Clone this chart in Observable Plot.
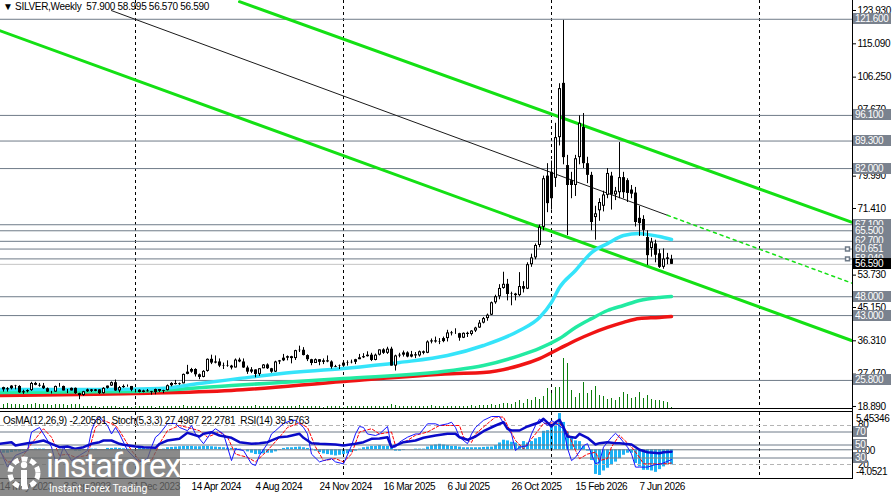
<!DOCTYPE html>
<html><head><meta charset="utf-8">
<script src="https://cdn.jsdelivr.net/npm/d3@7"></script>
<script src="https://cdn.jsdelivr.net/npm/@observablehq/plot@0.6"></script>
<style>
body{margin:0;background:#fff;}
#wrap{position:relative;width:892px;height:496px;overflow:hidden;font-family:"Liberation Sans",Arial,sans-serif;}
.box{position:absolute;left:853px;width:38px;height:11px;line-height:11px;font-size:10px;color:#fff;background:#7a828e;padding-left:2px;box-sizing:border-box;letter-spacing:-0.4px;white-space:nowrap;}
.lbl{position:absolute;left:856px;height:11px;line-height:11px;font-size:10px;color:#000;letter-spacing:-0.4px;white-space:nowrap;}
.line{position:absolute;background:#000;}
.hdr{position:absolute;font-size:10px;color:#000;white-space:pre;letter-spacing:-0.3px;}
</style></head>
<body><div id="wrap"></div>
<script>
// ---------------- DATA ----------------
const firstWeek = "2023-05-14"; // weekly bars, one per week
const openP = [23.9,23.9,23.3,23.6,24.3,24.2,22.5,22.8,23.1,25.0,24.5,24.3,23.6,22.7,22.7,24.2,24.2,23.0,23.0,23.7,22.3,21.8,22.8,23.3,22.9,23.3,22.3,23.7,24.3,25.2,23.0,23.9,24.2,24.2,23.2,23.2,22.6,23.0,22.8,22.6,23.4,22.9,23.1,24.4,25.0,24.7,24.9,27.4,28.0,28.7,27.3,26.6,28.2,31.4,30.4,30.7,29.6,29.5,29.6,29.1,31.2,30.7,29.1,28.0,28.6,27.4,28.9,29.9,28.9,28.0,30.7,31.0,31.7,32.1,31.6,33.7,33.8,32.4,31.3,30.3,31.3,30.6,31.0,30.7,29.3,29.5,29.6,30.4,30.5,30.6,31.3,31.8,32.1,32.5,31.1,32.5,33.9,33.0,34.1,29.6,32.3,32.5,33.1,32.0,32.6,32.3,33.4,33.0,36.0,36.3,36.0,36.1,36.9,38.4,38.2,38.2,37.0,38.3,38.0,38.9,39.7,41.0,42.2,43.1,46.4,48.0,50.2,51.3,48.6,48.7,48.3,50.7,50.0,56.5,58.3,61.6,66.4,80.0,81.0,79.4,90.2,104.6,82.8,78.8,77.5,84.9,92.9,83.3,80.2,69.0,70.8,72.0,74.9,80.0,75.0,75.6,79.6,78.8,76.3,75.5,68.8,68.5,63.7,60.8,62.0,59.4,55.8,58.3,57.9];
const highP = [24.3,24.0,23.9,24.4,24.5,24.4,23.2,23.3,25.3,25.3,25.0,25.0,23.8,22.9,24.3,25.0,24.3,23.4,23.8,23.8,22.4,22.9,23.5,23.4,23.4,23.3,23.9,24.3,25.4,25.9,24.2,24.6,24.6,24.2,23.4,23.3,23.2,23.4,22.9,23.5,23.4,23.2,24.6,25.2,25.8,25.1,27.5,29.8,29.0,28.9,27.5,28.4,31.5,32.5,32.3,31.5,30.4,31.0,29.8,31.5,31.7,31.5,29.6,29.2,28.6,28.9,30.0,30.2,29.0,30.9,31.1,32.7,32.3,32.2,33.8,34.9,34.5,32.6,31.4,31.5,31.3,31.5,32.3,31.0,29.8,29.9,30.8,31.0,31.2,31.4,32.7,32.9,33.4,33.0,32.8,33.9,34.2,34.6,34.6,32.5,33.0,33.6,33.4,33.5,33.2,33.6,33.6,36.3,36.8,37.3,36.9,37.3,39.1,38.8,39.5,38.3,38.4,38.6,39.0,39.9,41.7,42.5,43.4,46.6,48.4,51.2,54.5,52.6,49.2,48.9,54.4,52.0,57.0,59.3,62.0,67.0,80.0,83.3,84.0,94.0,104.5,121.3,85.5,81.0,85.5,96.0,96.6,85.0,81.0,72.0,74.0,76.0,82.0,81.0,77.0,88.9,81.0,79.3,77.5,77.0,72.0,69.5,65.5,63.5,63.0,60.5,60.7,59.5,58.995];
const lowP = [23.1,22.7,22.7,23.3,23.3,22.4,22.1,22.5,22.9,24.4,24.0,23.4,22.6,22.2,22.7,24.0,23.0,22.3,23.0,22.1,20.7,21.6,22.6,22.6,22.8,22.1,22.2,23.5,24.2,22.9,22.5,23.7,24.0,22.8,22.5,22.5,22.5,22.7,21.9,22.0,22.6,22.3,23.0,24.1,24.6,24.5,24.9,27.3,27.7,26.7,26.0,26.5,28.0,30.0,30.2,29.2,28.7,29.3,28.6,29.1,30.5,29.0,27.4,27.6,26.5,26.9,28.9,28.7,27.7,27.9,30.0,30.8,31.0,30.2,31.1,33.2,32.3,30.8,29.7,30.3,29.7,30.0,30.5,28.8,29.2,28.7,29.5,29.6,30.2,30.0,31.3,31.6,32.0,30.8,31.0,32.3,32.7,32.7,29.6,28.3,31.8,32.0,31.8,31.8,31.6,32.0,32.6,32.9,35.5,35.7,35.3,35.8,36.0,37.6,38.0,36.2,36.9,37.2,37.6,38.5,39.6,40.8,41.5,43.0,46.0,47.2,50.0,46.9,45.6,46.9,48.0,49.0,49.9,55.8,57.8,61.0,65.5,70.3,71.0,77.0,88.0,83.0,64.2,74.0,74.6,83.0,82.0,78.0,65.5,63.0,68.0,70.5,74.0,71.0,73.5,74.0,74.0,73.0,74.0,66.5,64.0,64.0,56.3,58.5,57.0,55.5,55.3,56.5,56.57];
const closeP = [23.9,23.3,23.6,24.3,24.2,22.5,22.8,23.1,25.0,24.5,24.3,23.6,22.7,22.7,24.2,24.2,23.0,23.0,23.7,22.3,21.8,22.8,23.3,22.9,23.3,22.3,23.7,24.3,25.2,23.0,23.9,24.2,24.2,23.2,23.2,22.6,23.0,22.8,22.6,23.4,22.9,23.1,24.4,25.0,24.7,24.9,27.4,28.0,28.7,27.3,26.6,28.2,31.4,30.4,30.7,29.6,29.5,29.6,29.1,31.2,30.7,29.1,28.0,28.6,27.4,28.9,29.9,28.9,28.0,30.7,31.0,31.7,32.1,31.6,33.7,33.8,32.4,31.3,30.3,31.3,30.6,31.0,30.7,29.3,29.5,29.6,30.4,30.5,30.6,31.3,31.8,32.1,32.5,31.1,32.5,33.9,33.0,34.1,29.6,32.3,32.5,33.1,32.0,32.6,32.3,33.4,33.0,36.0,36.3,36.0,36.1,36.9,38.4,38.2,38.2,37.0,38.3,38.0,38.9,39.7,41.0,42.2,43.1,46.4,48.0,50.2,51.3,48.6,48.7,48.3,50.7,50.0,56.5,58.3,61.6,66.4,79.3,72.7,74.0,90.2,103.2,84.9,77.5,77.5,84.6,94.0,83.3,80.2,67.7,70.0,73.0,75.0,80.7,75.0,76.0,79.6,75.6,75.4,75.2,67.7,67.4,65.6,58.9,62.5,59.0,55.8,58.0,57.9,56.59];
const volume = [4,4,5,4,4,4,3,4,4,5,4,4,4,3,4,4,4,3,4,4,4,
  2,2,2,2,1,2,2,2,2,1,2,2,1,2,2,2,2,2,1,2,2,2,2,2,2,3,2,2,2,2,2,2,2,2,1,2,2,2,2,
  2,2,2,2,3,2,2,2,2,2,2,2,2,2,2,3,2,2,2,2,2,1,2,2,2,2,1,2,2,2,2,2,2,2,2,2,2,2,4,3,2,2,2,2,2,2,2,2,3,2,2,2,2,
  2,2,2,2,2,3,2,3,3,3,4,3,4,
  5,5,4,6,8,5,9,8,11,9,
  12,20,15,21,21,50,45,
  18,11,15,26,15,18,22,13,12,9,10,8,11,16,14,10,11,16,10,13,9,8,8,7,6,1];
const osmaHist = [-0.4,-0.5,-0.5,-0.4,-0.3,-0.3,-0.2,-0.2,-0.1,
  0.1,0.1,0.1,0,-0.1,-0.1,-0.1,0,0,-0.1,-0.2,-0.2,-0.1,0,0.1,0.1,0,0,
  0.2,0.2,0.25,0.2,0.15,0.1,0.05,0,0.2,0.2,0.15,0.1,
  0.1,0.05,0.1,
  0.3,0.35,0.4,0.45,0.5,0.5,0.5,0.45,0.45,0.5,0.5,0.45,0.4,0.35,0.3,0.25,0.2,0.2,
  0.1,0,
  -0.3,-0.5,-0.7,-0.7,-0.6,-0.5,-0.5,-0.3,-0.1,
  0.2,0.3,0.3,0.35,0.4,0.3,0.2,0.1,
  -0.2,-0.4,-0.6,-0.7,-0.8,-0.9,-0.8,-0.7,-0.6,-0.4,-0.2,
  0.1,0.3,0.4,0.5,0.5,0.6,0.5,0.5,0.2,
  -0.2,-0.2,-0.1,0,0,0.1,0.1,0.1,
  0.4,0.6,0.7,0.8,0.7,0.6,0.5,0.5,0.4,0.3,0.3,0.3,0.3,0.3,0.35,0.4,
  0.4,0.6,1.0,1.4,1.3,1.1,1.0,0.5,1.2,1.0,1.2,1.6,1.8,2.7,2.8,3.4,4.0,5.3,
  4.0,2.6,1.8,1.3,1.2,0.5,-0.2,-1.56,-3.6,-3.76,-3.1,-2.7,-2.3,-1.8,-1.3,-0.8,-0.5,-0.5,-2.0,-2.5,-3.0,-3.0,-3.1,-3.3,-2.9,-2.5,-2.1,-2.20581];

// moving averages (read at selected weeks)
const maFastWeek = [0,25,40,50,60,70,86,100,112,121,130,135,138,140,144,148,152,156,160,162,165,168];
const maFast = [23.4,23.4,23.66,25.0,26.3,27.6,28.97,30.56,32.4,35.07,39.05,42.5,46.5,50.45,54.96,59.7,62.1,64.25,64.78,64.5,63.98,63.2];
const maMidWeek = [0,34,58,86,113,121,130,135,140,144,148,152,156,160,165,168];
const maMid = [22.6,22.87,24.46,26.3,28.44,29.76,32.4,34.3,36.9,39.85,42.2,44.35,45.68,47.0,47.8,48.07];
const maSlowWeek = [0,34,58,86,113,121,130,135,140,144,148,152,156,160,165,168];
const maSlow = [21.8,22.34,23.14,25.52,27.6,27.9,29.76,31.6,34.27,36.4,38.25,39.85,41.2,42.23,42.5,42.77];

// channel lines (week, price)
const upperWeek = [60,213], upperPrice = [126.26,67.8];
const lowerWeek = [0,213], lowerPrice = [118.6,36.4];
const midWeek = [28,167,213], midPrice = [123.9,69.6,51.65];

// horizontal levels
const levelPrices = [121.6,96.1,89.3,82.0,67.1,65.5,62.7,60.651,58.04,48.0,43.0,25.8];
const handleLevels = [60.651,58.04];
const bidPrice = 56.59;
const priceTicks = [123.93,115.09,106.25,97.67,88.83,79.99,71.41,62.57,53.73,45.15,36.31,27.47,18.89];
const dateTicks = ["2023-05-14","2023-09-03","2023-12-24","2024-04-14","2024-08-04","2024-11-24","2025-03-16","2025-07-06","2025-10-26","2026-02-15","2026-06-07"];
const separatorDates = ["2024-01-07","2025-01-05","2026-01-04","2027-01-03"];

// oscillators (week, value)
const stochWeek = [0,2,4,7,8,10,11,13,14,15,16,18,20,22,23,24,25,27,28,29,30,32,34,35,37,38,39,40,42,44,45,47,48,49,51,53,54,56,58,59,61,63,64,65,67,68,69,71,73,74,76,77,78,80,81,83,84,86,88,89,90,91,92,94,95,97,98,99,100,102,104,105,107,109,110,112,113,114,115,117,118,119,121,123,125,126,128,129,130,132,133,134,135,137,138,139,141,142,143,144,146,147,148,149,150,151,153,154,155,157,158,159,160,162,164,165,168];
const stochMain = [44,16,34,41.5,70,77,67,47,24,29,47,26,34,41.5,72,88,93,80,67,77,67,41.5,29,24,29,47,62,67,83,83,77,72,80,67,52,70,75,67,26,44,41.5,21,18.5,34,52,67,72,83,88,88,77,67,36,24,26,29,24,21,49,67,78.5,77,67,64.6,67,78.5,46.7,46.7,54.4,62,67,67,82.6,82.6,80,82.6,85,77,62,52,67,77,88,93.8,93.8,83.6,67,41.5,46.7,49,67,80,90,80,87.7,83.6,75,45,26,31,49,52,36,21,23.6,46.7,62,68,62,46.7,36.4,16,16,16,20,20,27.4987];
const sigWeek = [0,2,5,8,11,13,15,17,19,22,24,26,29,30,33,35,38,40,42,45,47,50,52,55,57,59,62,64,67,70,72,75,77,79,81,84,86,88,90,93,95,98,99,102,104,107,110,112,113,115,116,118,119,122,124,126,127,129,131,132,134,136,138,140,142,144,145,147,149,150,152,153,155,156,158,160,161,164,166,168];
const stochSignal = [41.5,23.6,26,52,75,62,34,36,31,34,77,88,80,72,41.5,26,26,52,72,80,77,72,62,70,62,36,31,24,41.5,62,77,84,77,47,26,29,24,36,70,75,67,70,49,57,65,70,80,80,80,80,62,54,67,83,93,93,80,57,44,52,67,83,84,83,70,41.5,29,36,39,26,29,47,65,59,47,31,21,21,21,22.2781];
const rsiWeek = [0,3,4,7,9,11,13,15,17,19,21,23,25,26,28,30,31,34,36,39,40,42,45,47,50,51,53,55,58,60,63,65,67,70,72,75,76,78,80,84,86,89,91,93,95,97,98,100,101,104,106,109,112,114,115,117,119,121,124,126,127,128,130,132,135,136,138,139,140,141,142,144,145,147,149,150,152,154,155,158,160,162,165,166,168];
const rsiVal = [51.8,54.3,49.2,52.8,54.3,56.9,51.8,46.6,47.7,44.1,46.6,51.8,54.3,56.9,56.9,51.8,50.3,47.7,46.6,45.6,51.8,56.9,59.5,68.7,63.1,67.2,69.7,64.6,61.1,54.3,51.8,52.8,54.3,62,63.1,67.2,61.1,52.8,51.8,50.8,49.2,51.8,54.3,59.5,60,62,46.6,51.8,54.3,56.9,61.1,64.6,67.2,67.2,62,58,63.1,71.2,80,85,74.9,72.3,72.3,78.5,85,90.3,78.5,85,88.8,77.4,63.1,61.1,67.2,61.1,50.8,52.8,54.3,52.8,52.8,50.8,42.6,38.9,37.4,38.9,39.5763];
const osmaRange = [-4.0521, 5.45346];

// ---------------- BUILD ----------------
const WEEK = 7 * 864e5;
const t0 = +new Date(firstWeek);
const wk = i => new Date(t0 + i * WEEK);
const xDomain = [wk(0.25), wk(213.25)];
const pts = (ws, vs) => ws.map((w, j) => ({date: wk(w), v: vs[j]}));

const candles = closeP.map((c, i) => ({date: wk(i), o: openP[i], h: highP[i], l: lowP[i], c, vol: volume[i], osma: osmaHist[i]}));
const seps = separatorDates.map(d => new Date(d));
const GREEN = "#14e014";
const FONT = "'Liberation Sans', Arial, sans-serif";
const wrap = document.getElementById("wrap");

const mainFig = Plot.plot({
  width: 892, height: 409, marginTop: 0, marginBottom: 0, marginLeft: 0, marginRight: 40,
  style: {position: "absolute", left: "0px", top: "0px", background: "white", fontFamily: FONT, fontSize: "10px", letterSpacing: "-0.4px", overflow: "visible"},
  x: {type: "utc", domain: xDomain, axis: null},
  y: {domain: [18.09, 126.58], axis: null},
  marks: [
    Plot.ruleX(seps, {stroke: "#000", strokeDasharray: "3,3"}),
    Plot.ruleY(levelPrices, {stroke: "#6f7b88"}),
    Plot.ruleY([bidPrice], {stroke: "#c4c4c4"}),
    Plot.line(pts(upperWeek, upperPrice), {x: "date", y: "v", stroke: GREEN, strokeWidth: 3}),
    Plot.line(pts(lowerWeek, lowerPrice), {x: "date", y: "v", stroke: GREEN, strokeWidth: 3}),
    Plot.line(pts(midWeek.slice(0, 2), midPrice.slice(0, 2)), {x: "date", y: "v", stroke: "#1a1a1a", strokeWidth: 1}),
    Plot.line(pts(midWeek.slice(1), midPrice.slice(1)), {x: "date", y: "v", stroke: GREEN, strokeWidth: 1.5, strokeDasharray: "3,4"}),
    Plot.line(pts(maSlowWeek, maSlow), {x: "date", y: "v", stroke: "#f01414", strokeWidth: 3.5, curve: "monotone-x"}),
    Plot.line(pts(maMidWeek, maMid), {x: "date", y: "v", stroke: "#22eaa2", strokeWidth: 3.5, curve: "monotone-x"}),
    Plot.line(pts(maFastWeek, maFast), {x: "date", y: "v", stroke: "#35e4fa", strokeWidth: 3.5, curve: "monotone-x"}),
    Plot.ruleX(candles, {x: "date", y1: "l", y2: "h", stroke: "#000"}),
    Plot.ruleX(candles, {x: "date", y1: "o", y2: "c", stroke: "#000", strokeWidth: 3}),
    Plot.ruleX(candles.filter(d => d.c - d.o > 0.8), {x: "date", y1: "c", y2: "o", stroke: "#fff", strokeWidth: 1, insetTop: 1, insetBottom: 1}),
    Plot.dot(handleLevels, {x: () => wk(212), y: d => d, symbol: "square", r: 2.2, fill: "#fff", stroke: "#6f7b88"}),
    Plot.axisY({anchor: "right", ticks: priceTicks, tickSize: 3, tickPadding: 2, tickFormat: d => d.toFixed(3)})
  ]
});
wrap.appendChild(mainFig);

const volFig = Plot.plot({
  width: 892, height: 60, marginTop: 0, marginBottom: 0, marginLeft: 0, marginRight: 40,
  style: {position: "absolute", left: "0px", top: "348px", background: "transparent"},
  x: {type: "utc", domain: xDomain, axis: null},
  y: {domain: [0, 60], axis: null},
  marks: [Plot.ruleX(candles, {x: "date", y1: 0, y2: "vol", stroke: "#0b7d0b"})]
});
wrap.appendChild(volFig);

const osmaFig = Plot.plot({
  width: 892, height: 85, marginTop: 1, marginBottom: 19, marginLeft: 0, marginRight: 40,
  style: {position: "absolute", left: "0px", top: "411px", background: "white"},
  x: {type: "utc", domain: xDomain, axis: null},
  y: {domain: osmaRange, axis: null},
  marks: [
    Plot.ruleX(candles, {x: "date", y1: 0, y2: "osma", stroke: "#1cb2f4", strokeWidth: 3}),
    Plot.ruleY([0], {stroke: "#6f7b88"})
  ]
});
wrap.appendChild(osmaFig);

const oscFig = Plot.plot({
  width: 892, height: 85, marginTop: 1, marginBottom: 19, marginLeft: 0, marginRight: 40,
  style: {position: "absolute", left: "0px", top: "411px", background: "transparent", fontFamily: FONT, fontSize: "10px", letterSpacing: "-0.4px", overflow: "visible"},
  x: {type: "utc", domain: xDomain},
  y: {domain: [0, 100], axis: null},
  marks: [
    Plot.ruleX(seps, {stroke: "#000", strokeDasharray: "3,3"}),
    Plot.ruleY([80, 20], {stroke: "#b4b4b4", strokeDasharray: "4,3"}),
    Plot.ruleY([70, 50, 30], {stroke: "#6f7b88"}),
    Plot.line(pts(sigWeek, stochSignal), {x: "date", y: "v", stroke: "#ff0000", strokeWidth: 1, strokeDasharray: "3,2"}),
    Plot.line(pts(stochWeek, stochMain), {x: "date", y: "v", stroke: "#1414ff", strokeWidth: 1}),
    Plot.line(pts(rsiWeek, rsiVal), {x: "date", y: "v", stroke: "#0a0ac8", strokeWidth: 2.5}),
    Plot.axisX({anchor: "bottom", ticks: dateTicks.map(d => new Date(d)), tickSize: 0, tickPadding: 5, textAnchor: "start", tickFormat: d3.utcFormat("%-d %b %Y")})
  ]
});
wrap.appendChild(oscFig);

// frame lines
function line(l, t, w, h) { const d = document.createElement("div"); d.className = "line"; Object.assign(d.style, {left: l + "px", top: t + "px", width: w + "px", height: h + "px"}); wrap.appendChild(d); }
line(0, 408, 853, 1); line(0, 411, 853, 1); line(0, 478, 853, 1); line(852, 0, 1, 479);

// level boxes on the price axis
const yMain = mainFig.scale("y");
function box(text, y, cls, bg, left, width) {
  const d = document.createElement("div"); d.className = cls; d.textContent = text;
  d.style.top = (y - 5.5) + "px";
  if (bg) d.style.background = bg;
  if (left != null) d.style.left = left + "px";
  if (width != null) d.style.width = width + "px";
  wrap.appendChild(d);
}
levelPrices.forEach(v => box(v.toFixed(3), yMain.apply(v), "box"));
box(bidPrice.toFixed(3), yMain.apply(bidPrice), "box", "#000");

// oscillator scale labels
const yOsc = oscFig.scale("y"), yOsma = osmaFig.scale("y");
const top2 = 411;
box(osmaRange[1].toFixed(5), top2 + yOsma.apply(osmaRange[1]) + 6, "lbl");
box("80", top2 + yOsc.apply(80) - 1, "lbl", null, 858);
box("0.00", top2 + yOsma.apply(0) + 1, "lbl", null, 857);
box("20", top2 + yOsc.apply(20), "lbl", null, 858);
box(osmaRange[0].toFixed(4), top2 + yOsma.apply(osmaRange[0]) - 6, "lbl");
[70, 50, 30].forEach(v => box(String(v), top2 + yOsc.apply(v), "box", null, 853, 14));

// headers
function hdr(text, l, t) { const d = document.createElement("div"); d.className = "hdr"; d.textContent = text; d.style.left = l + "px"; d.style.top = t + "px"; wrap.appendChild(d); }
hdr("\u25BC SILVER,Weekly  " + [openP.at(-1).toFixed(3), highP.at(-1).toFixed(3), lowP.at(-1).toFixed(3), closeP.at(-1).toFixed(3)].join(" "), 3, 1);
hdr("OsMA(12,26,9) " + osmaHist.at(-1).toFixed(5) + "  Stoch(5,3,3) " + stochMain.at(-1).toFixed(4) + " " + stochSignal.at(-1).toFixed(4) + "  RSI(14) " + rsiVal.at(-1).toFixed(4), 3, 415);

// logo
const logo = document.createElement("div");
Object.assign(logo.style, {position: "absolute", left: "0px", top: "449px", width: "180px", height: "47px", background: "rgba(105,105,105,0.78)"});
logo.innerHTML = '<svg width="40" height="40" style="position:absolute;left:4px;top:4px" viewBox="0 0 40 40">' +
  '<circle cx="20" cy="20" r="14" fill="none" stroke="#fff" stroke-width="5" stroke-dasharray="6,3"/>' +
  '<circle cx="20" cy="12" r="3.2" fill="#fff"/><rect x="17" y="17" width="6" height="16" fill="#fff"/></svg>' +
  '<div style="position:absolute;left:46px;top:-3px;font-family:Roboto,sans-serif;font-weight:400;font-size:33px;letter-spacing:-1.3px;color:#fff">instaforex</div>' +
  '<div style="position:absolute;left:49px;top:33px;font-family:Roboto,sans-serif;font-size:10.5px;color:#fff;white-space:nowrap">Instant Forex Trading</div>';
wrap.appendChild(logo);
</script>
</body></html>
